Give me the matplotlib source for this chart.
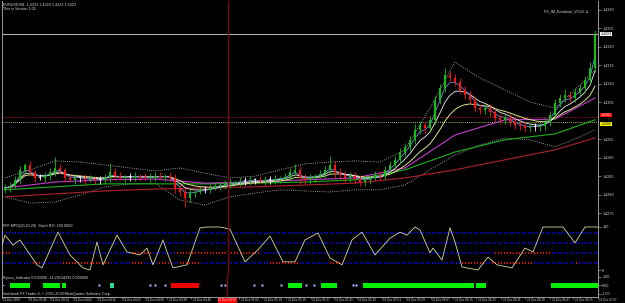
import matplotlib
matplotlib.use("Agg")
import matplotlib.pyplot as plt
import matplotlib.transforms as mtransforms
import numpy as np
import pandas as pd

W, H = 625, 303

# ---------------- data ----------------
first_open = 1.42814
closes = [
    1.42819, 1.42824, 1.42841, 1.42868, 1.42881, 1.42862, 1.42846, 1.42846, 1.42851, 1.42862,
    1.42873, 1.42868, 1.42846, 1.42841, 1.42846, 1.42846, 1.42841, 1.42843, 1.42841, 1.42841,
    1.42846, 1.42862, 1.42851, 1.42846, 1.42849, 1.42849, 1.42851, 1.42849, 1.42846, 1.42849,
    1.42851, 1.42849, 1.42851, 1.42846, 1.42819, 1.42808, 1.42792, 1.42805, 1.42808, 1.42814,
    1.42814, 1.42819, 1.42824, 1.42827, 1.42830, 1.42832, 1.42835, 1.42838, 1.42838, 1.42841,
    1.42841, 1.42838, 1.42841, 1.42841, 1.42843, 1.42846, 1.42849, 1.42862, 1.42868, 1.42846,
    1.42841, 1.42846, 1.42851, 1.42857, 1.42868, 1.42881, 1.42862, 1.42854, 1.42846, 1.42851,
    1.42843, 1.42835, 1.42841, 1.42846, 1.42854, 1.42851, 1.42868, 1.42881, 1.42895, 1.42916,
    1.42930, 1.42949, 1.42976, 1.42989, 1.42981, 1.43003, 1.43057, 1.43089, 1.43124, 1.43116,
    1.43105, 1.43084, 1.43070, 1.43057, 1.43035, 1.43030, 1.43035, 1.43024, 1.43008, 1.43003,
    1.43008, 1.42997, 1.42989, 1.42986, 1.42981, 1.42984, 1.42984, 1.42986, 1.42997, 1.43016,
    1.43049, 1.43062, 1.43070, 1.43062, 1.43078, 1.43089, 1.43111, 1.43143, 1.43232]
upper_wick_pips = [
    1, 1, 1, 1, 0.5, 1, 0.5, 1, 1, 1,
    3, 1, 0.5, 1, 1, 0.5, 1, 1, 0.5, 1,
    1, 2.5, 1, 1, 0.5, 1, 1, 0.5, 1, 1,
    1, 1, 0.5, 1, 1, 1, 1, 1, 0.5, 1,
    1, 1, 1, 0.5, 1, 1, 0.5, 1, 1, 1,
    0.5, 1, 1, 1, 1, 0.5, 1, 1, 1.5, 1,
    1, 1, 0.5, 1, 1, 2.5, 1, 1, 1, 1,
    1, 1, 1, 0.5, 1, 1, 1, 1, 1, 1,
    1, 1, 1.5, 1, 1, 1, 1, 1, 2, 1,
    1, 1, 1, 1, 1, 1, 1, 1, 1, 1,
    1, 1, 1, 1, 1, 1, 1, 1, 1, 1,
    1, 1, 1.5, 1, 1, 1, 1, 1.5, 1.5]
lower_wick_pips = [
    1, 1, 0.5, 1, 1, 1, 1, 0.5, 1, 1,
    1, 1, 1, 0.5, 1, 1, 1, 0.5, 1, 1,
    1, 1, 1, 0.5, 1, 1, 1, 1, 0.5, 1,
    1, 0.5, 1, 1, 1.5, 1, 2.5, 1, 1, 0.5,
    1, 1, 0.5, 1, 1, 1, 0.5, 1, 1, 1,
    1, 0.5, 1, 1, 1, 1, 0.5, 1, 1, 1.5,
    1, 1, 1, 0.5, 1, 1, 1.5, 1, 1, 1,
    1, 1, 1, 1, 0.5, 1, 1, 1, 1, 1,
    1, 1, 1, 1, 1.5, 1, 1, 1, 1, 1,
    1, 1, 1, 1, 1, 1, 1, 1, 1, 1,
    1, 1, 1, 1, 1, 1, 1, 1, 1, 1,
    1, 1, 1, 1, 1, 1, 1, 1, 1]

band_bar = [0, 5, 10, 15, 20, 25, 30, 35, 40, 45, 50, 55, 60, 65, 70, 75, 80, 85, 90, 95,
            100, 105, 110, 115, 118]
band_upper = [1.42846, 1.42868, 1.42892, 1.42889, 1.42881, 1.42873, 1.42865, 1.42873, 1.42859,
              1.42846, 1.42851, 1.42868, 1.42884, 1.42889, 1.42892, 1.42889, 1.42922, 1.43035,
              1.43159, 1.43116, 1.43084, 1.43051, 1.43035, 1.43097, 1.43138]
band_lower = [1.42795, 1.42778, 1.42781, 1.42800, 1.42822, 1.42830, 1.42832, 1.42786, 1.42773,
              1.42795, 1.42805, 1.42814, 1.42811, 1.42808, 1.42814, 1.42814, 1.42827, 1.42868,
              1.42908, 1.42935, 1.42954, 1.42949, 1.42930, 1.42957, 1.42976]

ma_bar = [0, 10, 20, 30, 40, 50, 60, 70, 80, 90, 100, 110, 118]
ma_magenta = [1.42819, 1.42835, 1.42841, 1.42843, 1.42832, 1.42835, 1.42841, 1.42846,
              1.42873, 1.42962, 1.43003, 1.43005, 1.43062]
ma_green = [1.42814, 1.42822, 1.42830, 1.42830, 1.42830, 1.42832, 1.42835, 1.42841,
            1.42868, 1.42916, 1.42949, 1.42965, 1.43003]
ma_darkred = [1.42795, 1.42803, 1.42811, 1.42816, 1.42819, 1.42822, 1.42827, 1.42832,
              1.42846, 1.42868, 1.42895, 1.42922, 1.42954]

bid_price = 1.43235
red_level = 1.43011
yellow_level = 1.42997
price_ticks = [1.4330, 1.4325, 1.4320, 1.4315, 1.4310, 1.4305,
               1.4295, 1.4290, 1.4285, 1.4280, 1.4275]

stoch_bar = [-1.0, 0, 1.6, 3, 6.4, 7.4, 10.6, 13, 15.6, 17, 18.4, 19.6, 22.4, 24.4, 27, 28.4,
             29.6, 31.6, 32.4, 33.6, 36.4, 39, 40.4, 43, 45, 48, 50.6, 53, 55.6, 58, 60, 62.6,
             65, 67.4, 69.4, 71.4, 74, 77, 79, 80.4, 82, 83, 85, 85.6, 87.4, 89, 90, 91.4,
             94.6, 96.6, 98.4, 101.4, 104, 105.6, 107.6, 111.6, 114, 116, 119.4]
stoch_val = [42, 81, 58, 70, 12, 5, 88, 35, 5, 0, 65, 12, 81, 42, 35, 51, 12, 70, 42, 5, 12,
             98, 100, 100, 95, 19, 47, 79, 19, 19, 70, 86, 28, 12, 70, 88, 35, 74, 88, 81, 100,
             93, 40, 51, 23, 98, 65, 7, 0, 30, 12, 5, 51, 42, 100, 100, 63, 100, 100]
dot_rows = [86, 63, 40, 16]
dot_red_spans = [
    [],
    [],
    [(-1, 1), (25.4, 29.6), (34.4, 51), (98, 109)],
    [(5.4, 7.4), (11.6, 21), (25.4, 27.6), (30.4, 33), (35, 39), (53, 59), (65, 68),
     (91.4, 96), (97.4, 105.6), (114, 114.4)],
]

green_spans = [(1, 5), (7.6, 11), (11.4, 12.2), (56.8, 59.6), (63.4, 66.6), (71.8, 94.2),
               (94.6, 96.6), (109.6, 119.4)]
teal_spans = [(21, 21.8)]
red_spans = [(33.4, 39)]
blue_dots = [18.8, 29, 30.2, 32.2, 43.4, 44.2, 50, 51.6, 55.4, 60.4, 62, 69.8, 70.4]

cursor_bar = 44.6
time_bar = [-0.6, 4.6, 9, 13.6, 18.4, 23.4, 28, 32.6, 37.4, 47, 51.6, 56.4, 61.4, 66,
            70.6, 75.6, 80.4, 85.4, 90, 94.6, 99.6, 104.4, 109.4, 114, 119]
time_labels = ["21 Dec 2009", "21 Dec 03:46", "21 Dec 03:54", "21 Dec 04:02", "21 Dec 04:12",
               "21 Dec 04:22", "21 Dec 04:30", "21 Dec 04:38", "21 Dec 04:46", "21 Dec 05:02",
               "21 Dec 05:10", "21 Dec 05:18", "21 Dec 05:27", "21 Dec 05:35", "21 Dec 05:43",
               "21 Dec 05:51", "21 Dec 05:59", "21 Dec 06:07", "21 Dec 06:15", "21 Dec 06:23",
               "21 Dec 06:31", "21 Dec 06:39", "21 Dec 06:47", "21 Dec 06:55", "21 Dec 07:07"]
cursor_label = "21 Dec 04:52"

# ---------------- styling ----------------
FONT = "Liberation Sans"
FS = 2.7
TFS = 2.2
TXT = "#D8D8D8"
FRAME = "#9A9A9A"
BULL = "#10C010"
BEAR = "#FF1010"
XMIN, XMAX = -0.6, 118.6

plt.rcParams["font.family"] = [FONT, "DejaVu Sans"]
fig = plt.figure(figsize=(W / 100, H / 100), dpi=100, facecolor="black")


def add_ax(left, top, right, bottom):
    a = fig.add_axes([left / W, 1 - bottom / H, (right - left) / W, (bottom - top) / H])
    a.set_facecolor("black")
    for s in a.spines.values():
        s.set_color(FRAME)
        s.set_linewidth(0.7)
    a.spines["top"].set_visible(False)
    a.set_xlim(XMIN, XMAX)
    a.yaxis.tick_right()
    a.tick_params(axis="y", colors=FRAME, labelcolor=TXT, labelsize=FS, length=2,
                  width=0.5, pad=1)
    a.set_xticks([])
    return a


# ---------------- main price panel ----------------
ax = add_ax(2, 1, 598, 222)
ax.set_ylim(1.42727, 1.43324)

o = np.array([first_open] + closes[:-1])
c = np.array(closes)
hi = np.maximum(o, c) + np.array(upper_wick_pips) * 1e-4
lo = np.minimum(o, c) - np.array(lower_wick_pips) * 1e-4
idx = np.arange(len(c))
cols = np.where(c > o, BULL, np.where(c < o, BEAR, "#FFFFFF"))

# horizontal levels
ax.axhline(bid_price, color="#B8B8B8", lw=0.7, zorder=1)
ax.axhline(red_level, color="#E02020", lw=0.6, ls=(0, (1, 1.5)), zorder=1)
ax.axhline(yellow_level, color="#E8E890", lw=0.6, ls=(0, (1, 1.5)), zorder=1)

# bands and moving averages
ax.plot(band_bar, band_upper, color="#C8C8C8", lw=0.6, ls=(0, (1, 1.6)), zorder=2)
ax.plot(band_bar, band_lower, color="#C8C8C8", lw=0.6, ls=(0, (1, 1.6)), zorder=2)
ax.plot(ma_bar, ma_darkred, color="#B02030", lw=0.8, zorder=2)
ax.plot(ma_bar, ma_green, color="#20B020", lw=0.8, zorder=2)
ax.plot(ma_bar, ma_magenta, color="#C040C8", lw=0.8, zorder=2)
s = pd.Series(c)
ax.plot(idx, s.ewm(span=12).mean(), color="#E0E090", lw=0.7, zorder=3)
ax.plot(idx, s.ewm(span=6).mean(), color="#F4F4F4", lw=0.6, zorder=3)
ax.plot(idx, s.ewm(span=3).mean(), color="#6C90E0", lw=0.6, zorder=3)

# candles
ax.vlines(idx, lo, hi, colors=cols, lw=0.6, zorder=4)
body = np.maximum(np.abs(c - o), 0.00003)
ax.bar(idx, body, bottom=np.minimum(o, c), width=0.5, color=cols, linewidth=0, zorder=5)

ax.set_yticks(price_ticks)
ax.set_yticklabels([f"{p:.4f}" for p in price_ticks])

tr = mtransforms.blended_transform_factory(ax.transAxes, ax.transData)
for price, fc, tc, va in [(bid_price, "#FFFFFF", "black", "center"),
                          (red_level, "#FF0000", "white", "bottom"),
                          (yellow_level, "#FFFF00", "black", "top")]:
    ax.text(1.004, price, f"{price:.4f}", transform=tr, ha="left", va=va, fontsize=FS - 0.2,
            color=tc, clip_on=False, zorder=10,
            bbox=dict(boxstyle="square,pad=0.05", fc=fc, ec="none"))

ax.text(0.002, 0.995, "EURUSD,M1  1.4323 1.4324 1.4322 1.4323", transform=ax.transAxes,
        ha="left", va="top", fontsize=FS, color=TXT)
ax.text(0.002, 0.972, "This is Version 1.02", transform=ax.transAxes,
        ha="left", va="top", fontsize=FS, color=TXT)
ax.text(0.985, 0.955, "FX_IM_Breakout_V1G2 \u263A", transform=ax.transAxes,
        ha="right", va="center", fontsize=FS, color=TXT)
ax.axvline(cursor_bar, color="#7A0A0A", lw=1.0, zorder=6)

# ---------------- stochastic panel ----------------
ax2 = add_ax(2, 222, 598, 275)
ax2.set_ylim(-11.6, 111.6)
dots_x = np.arange(XMIN + 0.3, XMAX, 0.6)
for level, spans in zip(dot_rows, dot_red_spans):
    dcol = np.array(["#0000FF"] * len(dots_x), dtype=object)
    for a0, a1 in spans:
        dcol[(dots_x >= a0) & (dots_x <= a1)] = "#FF0000"
    ax2.scatter(dots_x, np.full(len(dots_x), level), s=2.0, marker="s", c=list(dcol),
                linewidths=0, zorder=2)
ax2.plot(stoch_bar, stoch_val, color="#D8D8A0", lw=0.6, zorder=3)
ax2.set_yticks([100, 0])
ax2.set_yticklabels(["100", "0"])
ax2.text(0.002, 0.96, "FFF MPO(20,20,20)  Stoch R2I: 100.0000", transform=ax2.transAxes,
         ha="left", va="top", fontsize=FS, color=TXT)
ax2.axvline(cursor_bar, color="#7A0A0A", lw=1.0, zorder=6)

# ---------------- indicator panel ----------------
ax3 = add_ax(2, 275, 598, 297)
ax3.set_ylim(-1.353, 1.235)
for spans, colr in [(green_spans, "#00F000"), (teal_spans, "#30D890"), (red_spans, "#F00000")]:
    st = [a for a, b in spans]
    wd = [b - a for a, b in spans]
    ax3.bar(st, 0.6, width=wd, bottom=-0.3, align="edge", color=colr, linewidth=0, zorder=2)
ax3.scatter(blue_dots, np.zeros(len(blue_dots)), s=3, color="#9AAAF8", linewidths=0, zorder=3)
ax3.scatter([XMIN + 0.3], [0], s=3, marker=">", color="#9AAAF8", linewidths=0)
ax3.set_yticks([1, 0, -1])
ax3.set_yticklabels(["1.00", "0.00", "-1.00"])
ax3.text(0.002, 0.97, "Kijuna_Indicator 0.000000 -14.29134293 0.000000",
         transform=ax3.transAxes, ha="left", va="top", fontsize=FS, color=TXT)
ax3.text(0.002, 0.05, "Interbank FX Trader 4, \u00a9 2001-2009 MetaQuotes Software Corp.",
         transform=ax3.transAxes, ha="left", va="bottom", fontsize=FS, color=TXT)
ax3.axvline(cursor_bar, color="#7A0A0A", lw=1.0, zorder=6)

# time axis (tick marks + labels under the last panel)
ax3.set_xticks(time_bar)
ax3.set_xticklabels([])
ax3.tick_params(axis="x", colors=FRAME, length=1.5, width=0.5)
trx = mtransforms.blended_transform_factory(ax3.transData, ax3.transAxes)
for b, lab in zip(time_bar, time_labels):
    ax3.text(b + 0.3, -0.14, lab, transform=trx, ha="left", va="center", fontsize=TFS,
             color=TXT, clip_on=False)
ax3.text(cursor_bar, -0.14, cursor_label, transform=trx, ha="center", va="center",
         fontsize=TFS, color="white", clip_on=False, zorder=10,
         bbox=dict(boxstyle="square,pad=0.15", fc="#FF0000", ec="none"))

fig.savefig("out.png", dpi=100, facecolor="black")
